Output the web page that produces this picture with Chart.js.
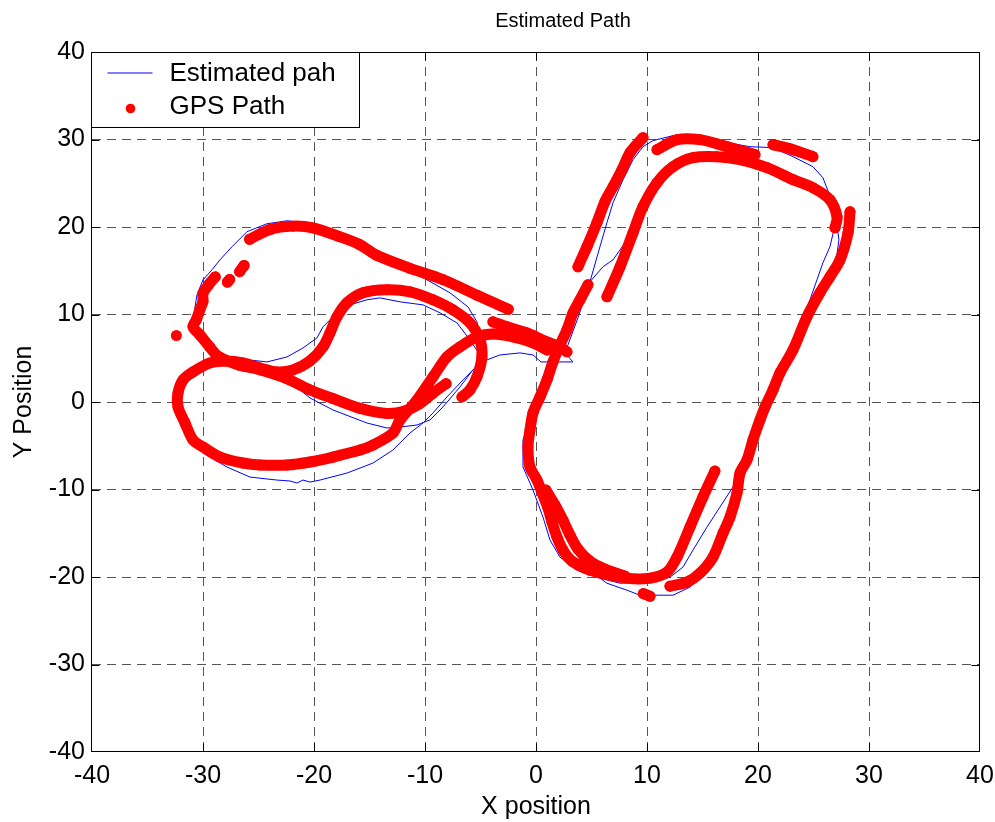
<!DOCTYPE html>
<html>
<head>
<meta charset="utf-8">
<title>Estimated Path</title>
<script src="https://cdn.jsdelivr.net/npm/chart.js@4.4.1/dist/chart.umd.min.js"></script>
<style>
  html, body { margin: 0; padding: 0; background: #ffffff; }
  #wrap { width: 995px; height: 822px; }
</style>
</head>
<body>
<div id="wrap"><canvas id="chart" width="995" height="822"></canvas></div>
<script>
// ---- labels -------------------------------------------------------------
const axisTicks = [-40, -30, -20, -10, 0, 10, 20, 30, 40];
const seriesLabels = ['Estimated pah', 'GPS Path'];
const chartTitle = 'Estimated Path';
const xTitle = 'X position';
const yTitle = 'Y Position';

// ---- GPS fixes: one array per unbroken run of dots (x, y) ---------------
const gpsTopArc = [[-25.8,18.6],[-24.0,19.7],[-21.9,20.1],[-20.1,19.9],[-17.7,18.9],[-15.9,18.0],
  [-14.4,16.8],[-11.4,15.3],[-8.4,14.0],[-5.3,12.2],[-2.5,10.6]];
const gpsWestArc = [[-28.9,14.3],[-29.5,13.4],[-30.0,12.4],[-30.0,11.5],[-30.3,10.5],[-30.6,9.4],
  [-30.9,8.6],[-30.3,7.7],[-29.4,6.3],[-28.6,5.2],[-26.7,4.2],[-24.9,3.7],[-22.5,2.7],[-20.4,1.4],
  [-18.3,0.4],[-15.9,-0.7],[-13.5,-1.3],[-12.0,-1.1],[-10.5,-0.2],[-9.3,1.0],[-8.1,2.1]];
const gpsStrayA = [[-32.4,7.6]];
const gpsStrayB = [[-27.8,13.7],[-27.6,14.0]];
const gpsStrayC = [[-26.7,14.9],[-26.3,15.6]];
const gpsLoops = [[0.99,5.95],[-0.27,6.76],[-2.07,7.44],[-3.88,7.78],[-5.32,7.44],[-6.85,6.3],
  [-8.02,5.15],[-9.28,2.86],[-10.72,0.23],[-12.25,-2.05],[-12.88,-3.54],[-14.69,-4.92],[-15.86,-5.49],
  [-18.29,-6.29],[-20.36,-6.86],[-22.43,-7.2],[-24.87,-7.2],[-26.4,-6.97],[-28.47,-6.29],[-30.0,-5.14],
  [-30.9,-4.34],[-31.62,-2.4],[-32.25,-0.57],[-32.25,1.03],[-31.8,2.52],[-30.9,3.44],[-29.37,4.47],
  [-27.84,4.7],[-26.4,4.47],[-24.87,3.89],[-23.34,3.44],[-21.89,3.67],[-20.36,4.7],[-19.19,6.3],
  [-18.56,7.9],[-17.93,9.73],[-17.03,11.33],[-15.59,12.48],[-13.43,12.82],[-11.35,12.59],[-9.28,11.68],
  [-7.48,10.53],[-5.95,9.04],[-5.05,7.1],[-4.87,5.15],[-5.32,2.86],[-5.95,1.38],[-6.67,0.58]];
const gpsJunction = [[-3.88,9.16],[-2.61,8.59],[-0.81,7.9],[0.99,6.87],[2.16,6.3],[2.79,5.73]];
const trackWest = [[4.68,13.39],[3.96,11.68],[3.33,10.19],[2.79,8.24],[2.16,6.53],[1.53,4.58],
  [0.99,2.52],[0.36,0.58],[-0.27,-1.25],[-0.54,-3.2],[-0.72,-5.14],[-0.54,-7.43],[0.09,-8.92],
  [0.63,-10.64],[1.08,-12.12],[1.44,-13.73],[1.89,-15.44],[2.43,-16.93],[3.24,-18.19],[4.86,-19.22],
  [8.2,-20.13],[10.27,-20.13],[11.8,-19.45],[12.7,-17.73],[13.87,-14.3],[15.04,-10.86],[16.12,-7.89]];
const trackWestInner = [[0.9,-10.06],[1.71,-11.78],[2.43,-13.5],[3.06,-15.21],[3.78,-16.81],
  [4.86,-18.19],[6.21,-19.1],[8.02,-19.9]];
const trackNorthWest = [[3.78,15.45],[4.59,17.74],[5.49,20.49],[6.21,22.89],[6.94,24.6],
  [7.75,26.55],[8.47,28.49],[9.64,30.21]];
const trackNorthOuter = [[10.9,28.84],[12.7,29.98],[14.77,29.98],[17.21,29.18],[19.73,28.27]];
const trackNorthShort = [[21.35,29.41],[23.15,28.84],[24.95,28.04]];
const trackNorthInner = [[6.39,12.02],[7.57,15.45],[8.74,19.34],[9.64,22.32],[10.9,25.06],
  [12.34,26.89],[14.14,27.92],[16.3,28.04],[18.38,27.69],[20.81,26.78],[23.15,25.41],[24.95,24.49],
  [26.48,23.12],[27.12,21.17],[26.94,19.91]];
const trackEast = [[28.29,21.74],[28.11,19.34],[27.39,16.25],[26.48,14.31],[25.58,12.48],
  [24.41,9.73],[23.15,5.95],[21.98,3.32],[21.35,1.38],[20.63,-0.57],[20.18,-2.05],[19.55,-4.34],
  [19.01,-6.63],[18.38,-8.12],[18.11,-10.41],[17.48,-13.15],[16.85,-14.98],[15.94,-17.73],
  [14.77,-19.56],[13.6,-20.59],[12.07,-21.05]];
const trackSouthDots = [[9.67,-21.9],[10.27,-22.2]];

// ---- estimated trajectory, legs drawn end to end ------------------------
const estWestLoops = [[-4.96,5.15],[-4.96,7.10],[-5.32,9.16],[-6.13,10.87],[-7.75,12.48],
  [-9.82,13.96],[-12.89,16.02],[-15.23,17.85],[-18.29,19.46],[-20.63,20.49],[-22.43,20.71],
  [-24.24,20.37],[-26.04,19.46],[-27.39,17.74],[-28.47,16.25],[-29.19,15.11],[-30.00,13.96],
  [-30.54,12.25],[-30.72,10.87],[-30.63,9.16],[-30.27,8.01],[-29.37,6.30],[-28.20,5.38],
  [-26.67,4.92],[-24.24,4.58],[-22.43,5.15],[-20.99,6.18],[-19.73,7.33],[-19.19,8.59],
  [-18.29,9.73],[-16.76,11.10],[-15.23,11.68],[-14.06,11.90],[-12.25,11.45],[-10.18,11.10],
  [-8.65,10.19],[-7.12,9.04],[-5.95,7.10],[-5.23,5.73],[-5.05,4.81],[-5.41,4.01],[-6.58,2.52],
  [-8.02,0.58],[-9.28,-1.25],[-10.18,-2.40],[-11.35,-3.54],[-12.89,-5.49],[-14.69,-6.98],
  [-17.03,-8.12],[-19.46,-8.92],[-20.36,-9.15],[-20.99,-8.92],[-21.53,-9.26],[-22.16,-9.03],
  [-23.34,-8.92],[-25.77,-8.58],[-27.84,-7.43],[-30.00,-5.83],[-30.99,-4.34],[-31.80,-2.40],
  [-32.34,-0.34],[-32.34,1.15],[-31.80,2.52],[-30.90,3.44],[-29.19,4.35],[-26.67,4.24],
  [-23.97,3.67],[-22.16,2.29],[-20.36,0.46],[-18.29,-0.91],[-15.23,-2.40],[-13.43,-2.97],
  [-12.25,-2.86],[-10.72,-2.63],[-9.55,-2.05],[-8.38,-0.57],[-6.85,1.72],[-5.68,3.67],
  [-4.42,4.81],[-3.25,5.38],[-1.44,5.61],[-0.27,5.38],[0.45,4.58],[3.33,4.58],[2.61,5.61]];
const estTrackLap1 = [[3.78,9.62],[4.86,13.73],[5.76,17.74],[6.39,20.49],[6.94,22.77],
  [7.84,25.40],[8.74,27.69],[9.64,29.18],[10.54,29.87],[12.34,30.44],[14.77,30.32],[17.20,29.64],
  [19.27,29.18],[21.35,29.07],[23.15,28.04],[24.95,26.89],[25.85,25.63],[26.30,24.15],[26.66,22.32],
  [26.84,19.68],[26.48,17.74],[25.85,15.91],[25.31,13.96],[24.68,11.68],[24.05,9.39],[23.15,6.53],
  [21.98,3.44],[21.07,0.81],[20.17,-2.05],[19.45,-4.92],[18.73,-7.20],[18.10,-8.92],[17.74,-9.72],
  [16.57,-12.01],[15.40,-14.30],[14.14,-16.93],[13.24,-18.87],[12.07,-20.02],[10.54,-20.59],
  [7.57,-20.71],[5.76,-20.13],[3.69,-19.22],[2.16,-17.73],[1.26,-15.78],[0.63,-13.15],
  [-0.27,-10.06],[-1.17,-7.43],[-1.17,-4.34],[-0.81,-2.86],[-0.27,-1.25],[0.54,1.72],[0.63,2.87]];
const estTrackLap2 = [[1.53,4.58],[2.34,6.53],[3.24,9.39],[4.23,12.25],[4.86,13.73],[6.03,15.45],
  [6.94,16.25],[8.02,18.20],[8.92,20.60],[9.82,22.89],[10.90,25.06],[12.34,26.89],[14.14,27.92],
  [16.30,28.04],[19.54,27.69],[21.98,26.55],[24.05,25.18],[25.40,23.92],[26.48,22.32],[27.11,20.26],
  [27.29,18.54],[27.11,16.82],[26.48,14.88],[25.58,12.48],[24.41,9.73],[23.15,6.53],[21.98,3.32],
  [20.62,-0.34],[19.54,-4.34],[18.82,-6.86],[18.19,-8.92],[17.92,-10.64],[17.47,-12.92],
  [16.75,-15.44],[16.03,-17.62],[14.77,-20.02],[13.87,-21.16],[12.34,-22.08],[9.37,-22.08],
  [8.20,-21.51],[6.39,-20.71],[5.76,-20.13]];

const gpsRuns = [gpsTopArc, gpsWestArc, gpsStrayA, gpsStrayB, gpsStrayC, gpsLoops, gpsJunction,
  trackWest, trackWestInner, trackNorthWest, trackNorthOuter, trackNorthShort, trackNorthInner,
  trackEast, trackSouthDots];
const estRuns = [estWestLoops.concat(estTrackLap1, estTrackLap2)];

// runs become one point list, a null point between runs breaks the line
function toPoints(runs) {
  const pts = [];
  runs.forEach((run, i) => {
    if (i > 0) pts.push({ x: null, y: null });
    run.forEach(([x, y]) => pts.push({ x, y }));
  });
  return pts;
}

const FONT = "'Liberation Sans', Arial, Helvetica, sans-serif";
const RED = '#ff0000';
const BLUE = '#0000ff';
const GRID = '#555555';

const edgeValue = v => v === axisTicks[0] || v === axisTicks[axisTicks.length - 1];
const gridColor = ctx => (ctx.tick && edgeValue(ctx.tick.value)) ? 'rgba(0,0,0,0)' : GRID;
const setTicks = s => { s.ticks = axisTicks.map(v => ({ value: v })); };

// title, axes box, inward tick marks and the boxed legend
const framePlugin = {
  id: 'frameAndLegend',
  afterDatasetsDraw(chart) {
    const { ctx, chartArea: a, scales } = chart;
    ctx.save();
    ctx.strokeStyle = '#000';
    ctx.lineWidth = 1;
    ctx.setLineDash([]);
    const L = Math.round(a.left) - 0.5, R = Math.round(a.right) - 0.5;
    const T = Math.round(a.top) + 0.5, B = Math.round(a.bottom) - 0.5;
    ctx.strokeRect(L, T, R - L, B - T);
    const tl = 8;
    ctx.beginPath();
    axisTicks.forEach(v => {
      if (edgeValue(v)) return;
      const px = Math.round(scales.x.getPixelForValue(v)) + 0.5;
      ctx.moveTo(px, B); ctx.lineTo(px, B - tl);
      ctx.moveTo(px, T); ctx.lineTo(px, T + tl);
      const py = Math.round(scales.y.getPixelForValue(v)) + 0.5;
      ctx.moveTo(L, py); ctx.lineTo(L + tl, py);
      ctx.moveTo(R, py); ctx.lineTo(R - tl, py);
    });
    ctx.stroke();

    // title above the axes
    ctx.fillStyle = '#000';
    ctx.font = '20px ' + FONT;
    ctx.textAlign = 'center';
    ctx.textBaseline = 'alphabetic';
    ctx.fillText(chartTitle, 563, 27);

    // legend box in the top-left corner of the axes
    const ds = chart.data.datasets;
    const bx = L, by = T, bw = 268, bh = 75;
    ctx.fillStyle = '#fff';
    ctx.fillRect(bx, by, bw, bh);
    ctx.strokeRect(bx, by, bw, bh);
    ctx.strokeStyle = ds[0].borderColor;
    ctx.lineWidth = 1;
    ctx.beginPath();
    ctx.moveTo(bx + 16, by + 20.5);
    ctx.lineTo(bx + 61, by + 20.5);
    ctx.stroke();
    ctx.fillStyle = ds[1].pointBackgroundColor;
    ctx.beginPath();
    ctx.arc(bx + 39, by + 56, 4.8, 0, Math.PI * 2);
    ctx.fill();
    ctx.fillStyle = '#000';
    ctx.font = '26px ' + FONT;
    ctx.textAlign = 'left';
    ctx.fillText(ds[0].label, bx + 78, by + 28);
    ctx.fillText(ds[1].label, bx + 78, by + 61);
    ctx.restore();
  }
};

new Chart(document.getElementById('chart'), {
  type: 'scatter',
  data: {
    datasets: [
      {
        label: seriesLabels[0],
        data: toPoints(estRuns),
        showLine: true,
        borderColor: BLUE,
        backgroundColor: BLUE,
        borderWidth: 1,
        pointRadius: 0,
        pointHoverRadius: 0,
        tension: 0,
        order: 1
      },
      {
        label: seriesLabels[1],
        data: toPoints(gpsRuns),
        showLine: true,
        borderColor: RED,
        backgroundColor: RED,
        borderWidth: 11,
        borderCapStyle: 'round',
        borderJoinStyle: 'round',
        pointRadius: 5.5,
        pointHoverRadius: 5.5,
        pointBorderWidth: 0,
        pointBackgroundColor: RED,
        tension: 0.3,
        order: 0
      }
    ]
  },
  options: {
    responsive: false,
    devicePixelRatio: 1,
    animation: false,
    events: [],
    layout: { padding: { left: 0, right: 15, top: 52, bottom: 0 } },
    plugins: {
      legend: { display: false },
      tooltip: { enabled: false },
      title: { display: false }
    },
    scales: {
      x: {
        type: 'linear',
        min: axisTicks[0],
        max: axisTicks[axisTicks.length - 1],
        afterBuildTicks: setTicks,
        afterFit: s => { s.height = 70; s.paddingLeft = 0; s.paddingRight = 0; },
        ticks: {
          color: '#000', padding: 9, maxRotation: 0, autoSkip: false,
          font: { family: FONT, size: 25 },
          callback: v => String(v)
        },
        grid: { color: gridColor, lineWidth: 1, drawTicks: false, borderDash: [9, 6] },
        border: { display: false, dash: [9, 6] },
        title: {
          display: true, text: xTitle, color: '#000',
          font: { family: FONT, size: 25 },
          padding: { top: 0, bottom: 0 }
        }
      },
      y: {
        type: 'linear',
        min: axisTicks[0],
        max: axisTicks[axisTicks.length - 1],
        afterBuildTicks: setTicks,
        afterFit: s => { s.width = 92; s.paddingTop = 0; s.paddingBottom = 0; },
        ticks: {
          color: '#000', padding: 7, autoSkip: false,
          font: { family: FONT, size: 25 },
          callback: v => String(v)
        },
        grid: { color: gridColor, lineWidth: 1, drawTicks: false, borderDash: [9, 6] },
        border: { display: false, dash: [9, 6] },
        title: {
          display: true, text: yTitle, color: '#000',
          font: { family: FONT, size: 25 },
          padding: { top: 9, bottom: 0 }
        }
      }
    }
  },
  plugins: [framePlugin]
});
</script>
</body>
</html>
